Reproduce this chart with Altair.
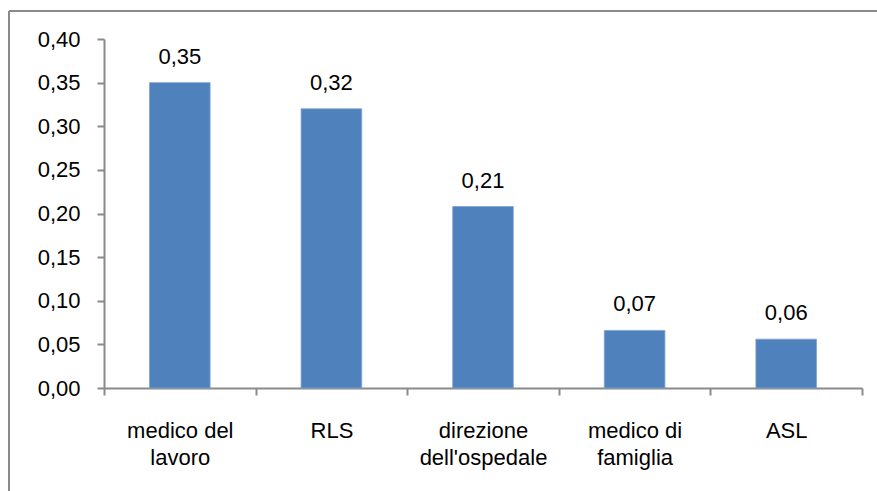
import altair as alt
import pandas as pd

# Chart data: who the respondents turn to (share of answers)
categories = [
    "medico del\nlavoro",
    "RLS",
    "direzione\ndell'ospedale",
    "medico di\nfamiglia",
    "ASL",
]
values = [0.35, 0.32, 0.208, 0.066, 0.056]
y_ticks = [0.0, 0.05, 0.10, 0.15, 0.20, 0.25, 0.30, 0.35, 0.40]

df = pd.DataFrame({"fonte": categories, "quota": values})

FONT = "Liberation Sans"
GREY = "#8a8a8a"
BLUE = "#4F81BD"
FS = 22

x_enc = alt.X(
    "fonte:N",
    sort=categories,
    title=None,
    scale=alt.Scale(paddingInner=0, paddingOuter=0),
    axis=alt.Axis(
        tickBand="extent",
        labelAngle=0,
        labelExpr="split(datum.label, '\\n')",
        labelFont=FONT,
        labelFontSize=FS,
        labelColor="#000000",
        labelLineHeight=27,
        labelPadding=25,
        tickSize=7,
        tickColor=GREY,
        tickWidth=2,
        domainColor=GREY,
        domainWidth=2,
        grid=False,
    ),
)

y_enc = alt.Y(
    "quota:Q",
    title=None,
    scale=alt.Scale(domain=[0, 0.4], nice=False, zero=True),
    axis=alt.Axis(
        values=y_ticks,
        labelExpr="replace(format(datum.value, '.2f'), '.', ',')",
        labelFont=FONT,
        labelFontSize=FS,
        labelColor="#000000",
        labelPadding=17,
        tickSize=7,
        tickColor=GREY,
        tickWidth=2,
        domainColor=GREY,
        domainWidth=2,
        grid=False,
    ),
)

base = alt.Chart(df)

bars = base.mark_bar(
    color=BLUE,
    stroke="#7FA3D0",
    strokeWidth=0.8,
    width=alt.RelativeBandSize(0.4),
).encode(x=x_enc, y=y_enc)

labels = base.transform_calculate(
    etichetta="replace(format(datum.quota, '.2f'), '.', ',')"
).mark_text(
    font=FONT,
    fontSize=FS,
    color="#000000",
    baseline="alphabetic",
    dy=-19,
).encode(x=alt.X("fonte:N", sort=categories), y="quota:Q", text="etichetta:N")

# Chart-area border: only its top and left sides fall inside the canvas
one = pd.DataFrame({"k": [0]})
frame_top = alt.Chart(one).mark_rule(color=GREY, strokeWidth=2).encode(
    x=alt.value(-95), x2=alt.value(773), y=alt.value(-28)
)
frame_left = alt.Chart(one).mark_rule(color=GREY, strokeWidth=2).encode(
    x=alt.value(-95), y=alt.value(-28), y2=alt.value(452)
)

chart = (
    alt.layer(frame_top, frame_left, bars, labels)
    .properties(
        width=758,
        height=349,
        autosize=alt.AutoSizeParams(type="none"),
        padding={"left": 104, "top": 39, "right": 15, "bottom": 103},
        background="#ffffff",
    )
    .configure_view(strokeWidth=0)
)

chart.save("out.html", embed_options={"renderer": "svg", "actions": False})
